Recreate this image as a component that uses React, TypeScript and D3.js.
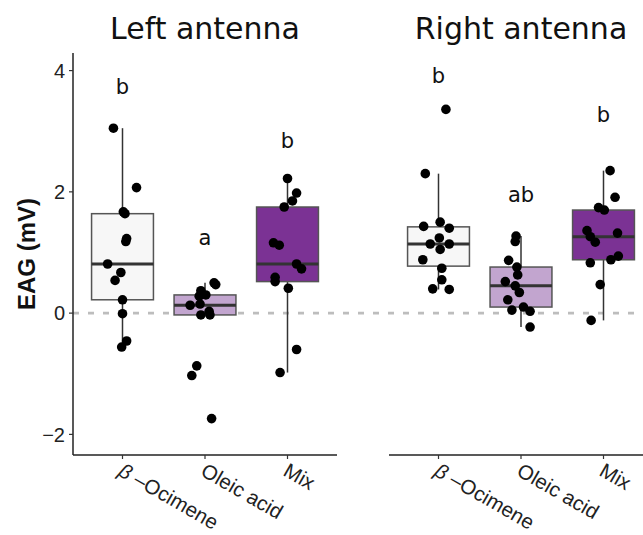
import * as d3 from 'd3';

const panels = ['Left antenna', 'Right antenna'];
const categories = ['Ocimene', 'Oleic acid', 'Mix'];
const fills = ['#f7f7f7', '#c2a5cf', '#7b3294'];
const yTicks = [-2, 0, 2, 4];

// EAG responses (mV), with horizontal jitter in band steps
const leftOcimene = [3.05, 2.07, 1.67, 1.64, 1.23, 1.18, 0.81, 0.67, 0.54, 0.22, -0.01, -0.46, -0.56];
const leftOcimeneJitter = [-0.11, 0.17, 0.01, 0.03, 0.05, 0.04, -0.18, -0.02, -0.09, 0, 0, 0.05, -0.01];
const leftOleic = [0.5, 0.47, 0.37, 0.3, 0.28, 0.13, 0.15, 0.03, -0.03, -0.03, -0.87, -1.03, -1.74];
const leftOleicJitter = [0.11, 0.13, -0.05, 0.01, -0.07, -0.18, -0.06, 0.05, -0.05, 0.06, -0.1, -0.16, 0.08];
const leftMix = [2.22, 1.98, 1.85, 1.75, 1.16, 1.12, 0.81, 0.73, 0.59, 0.52, 0.41, -0.6, -0.98];
const leftMixJitter = [0, 0.11, 0.06, -0.04, -0.17, -0.1, 0.11, 0.17, -0.15, -0.15, 0.01, 0.11, -0.09];

const rightOcimene = [3.36, 2.3, 1.5, 1.43, 1.4, 1.24, 1.14, 1.14, 1.05, 0.88, 0.74, 0.55, 0.4, 0.39];
const rightOcimeneJitter = [0.09, -0.16, 0.02, -0.18, 0.13, 0.01, -0.1, 0.13, 0.02, -0.19, 0.04, 0.04, -0.07, 0.13];
const rightOleic = [1.27, 1.18, 0.87, 0.76, 0.63, 0.52, 0.45, 0.34, 0.22, 0.05, 0.1, 0.03, -0.23];
const rightOleicJitter = [-0.06, -0.07, -0.15, -0.05, -0.04, -0.19, -0.07, -0.02, -0.16, -0.11, 0.03, 0.11, 0.11];
const rightMix = [2.35, 1.91, 1.74, 1.7, 1.36, 1.32, 1.26, 1.17, 0.94, 0.88, 0.83, 0.47, -0.12];
const rightMixJitter = [0.08, 0.14, -0.06, 0.01, -0.2, 0.17, -0.16, -0.1, 0.18, 0.09, -0.16, -0.04, -0.15];

// significance letters and where they sit (mV)
const leftLetters = ['b', 'a', 'b'];
const leftLetterY = [3.74, 1.25, 2.84];
const rightLetters = ['b', 'ab', 'b'];
const rightLetterY = [3.92, 1.96, 3.27];

const panelData = [
  {
    values: [leftOcimene, leftOleic, leftMix],
    jitter: [leftOcimeneJitter, leftOleicJitter, leftMixJitter],
    letters: leftLetters,
    letterY: leftLetterY,
  },
  {
    values: [rightOcimene, rightOleic, rightMix],
    jitter: [rightOcimeneJitter, rightOleicJitter, rightMixJitter],
    letters: rightLetters,
    letterY: rightLetterY,
  },
];

const W = 643;
const H = 535;
const panelX = [[73, 337], [389, 653]];
const top = 53;
const bottom = 455;

const boxStats = (vals: number[]) => {
  const s = [...vals].sort(d3.ascending);
  const q1 = d3.quantile(s, 0.25)!;
  const med = d3.quantile(s, 0.5)!;
  const q3 = d3.quantile(s, 0.75)!;
  const iqr = q3 - q1;
  const lo = d3.min(s.filter(v => v >= q1 - 1.5 * iqr))!;
  const hi = d3.max(s.filter(v => v <= q3 + 1.5 * iqr))!;
  return { q1, med, q3, lo, hi };
};

const titleFont = '"DejaVu Sans", Verdana, sans-serif';
const axisFont = '"Liberation Sans", Arial, sans-serif';

export default function App() {
  const y = d3.scaleLinear().domain([-2.34, 4.29]).range([bottom, top]);

  return (
    <svg width={W} height={H} style={{ position: 'absolute', left: 0, top: 0, background: '#fff' }}>
      <rect width={W} height={H} fill="#fff" />

      {/* zero reference */}
      <line x1={panelX[0][0]} x2={W} y1={y(0)} y2={y(0)} stroke="#bdbdbd" strokeWidth={2.6} strokeDasharray="6,9" />

      {/* y axis */}
      <line x1={panelX[0][0]} x2={panelX[0][0]} y1={top} y2={bottom} stroke="#222" strokeWidth={1.5} />
      {yTicks.map(t => (
        <g key={t}>
          <line x1={panelX[0][0] - 4} x2={panelX[0][0]} y1={y(t)} y2={y(t)} stroke="#333" strokeWidth={1.2} />
          <text x={panelX[0][0] - 8} y={y(t)} dy="0.36em" textAnchor="end" fontFamily={axisFont} fontSize={20} fill="#222">
            {t < 0 ? `\u2212${-t}` : t}
          </text>
        </g>
      ))}
      <text
        transform={`translate(35,${(top + bottom) / 2}) rotate(-90)`}
        textAnchor="middle"
        fontFamily={axisFont}
        fontWeight="bold"
        fontSize={24}
        fill="#111"
      >
        EAG (mV)
      </text>

      {panels.map((title, p) => {
        const [x0, x1] = panelX[p];
        const x = d3.scalePoint<string>().domain(categories).range([x0, x1]).padding(0.6);
        const step = x.step();
        const bw = step * 0.75;
        const d = panelData[p];
        return (
          <g key={title}>
            <text x={(x0 + x1) / 2} y={39} textAnchor="middle" fontFamily={titleFont} fontSize={30} fill="#111">
              {title}
            </text>
            <line x1={x0} x2={x1} y1={bottom} y2={bottom} stroke="#222" strokeWidth={1.5} />

            {categories.map((c, i) => {
              const cx = x(c)!;
              const st = boxStats(d.values[i]);
              return (
                <g key={c}>
                  <line x1={cx} x2={cx} y1={bottom} y2={bottom + 4} stroke="#333" strokeWidth={1.2} />
                  <text
                    transform={`translate(${cx + 2},${bottom + 7}) rotate(30)`}
                    dy="0.72em"
                    fontFamily={axisFont}
                    fontSize={20.5}
                    fill="#222"
                  >
                    {c === 'Ocimene' ? (
                      <>
                        <tspan fontStyle="italic">β</tspan>
                        <tspan> –Ocimene</tspan>
                      </>
                    ) : (
                      c
                    )}
                  </text>

                  <line x1={cx} x2={cx} y1={y(st.hi)} y2={y(st.q3)} stroke="#333" strokeWidth={1.5} />
                  <line x1={cx} x2={cx} y1={y(st.q1)} y2={y(st.lo)} stroke="#333" strokeWidth={1.5} />
                  <rect
                    x={cx - bw / 2}
                    width={bw}
                    y={y(st.q3)}
                    height={y(st.q1) - y(st.q3)}
                    fill={fills[i]}
                    stroke="#555"
                    strokeWidth={1.5}
                  />
                  <line x1={cx - bw / 2} x2={cx + bw / 2} y1={y(st.med)} y2={y(st.med)} stroke="#333" strokeWidth={3} />

                  {d.values[i].map((v, k) => (
                    <circle key={k} cx={cx + d.jitter[i][k] * step} cy={y(v)} r={4.8} fill="#000" />
                  ))}

                  <text x={cx} y={y(d.letterY[i])} dy="0.35em" textAnchor="middle" fontFamily={titleFont} fontSize={21} fill="#111">
                    {d.letters[i]}
                  </text>
                </g>
              );
            })}
          </g>
        );
      })}
    </svg>
  );
}
